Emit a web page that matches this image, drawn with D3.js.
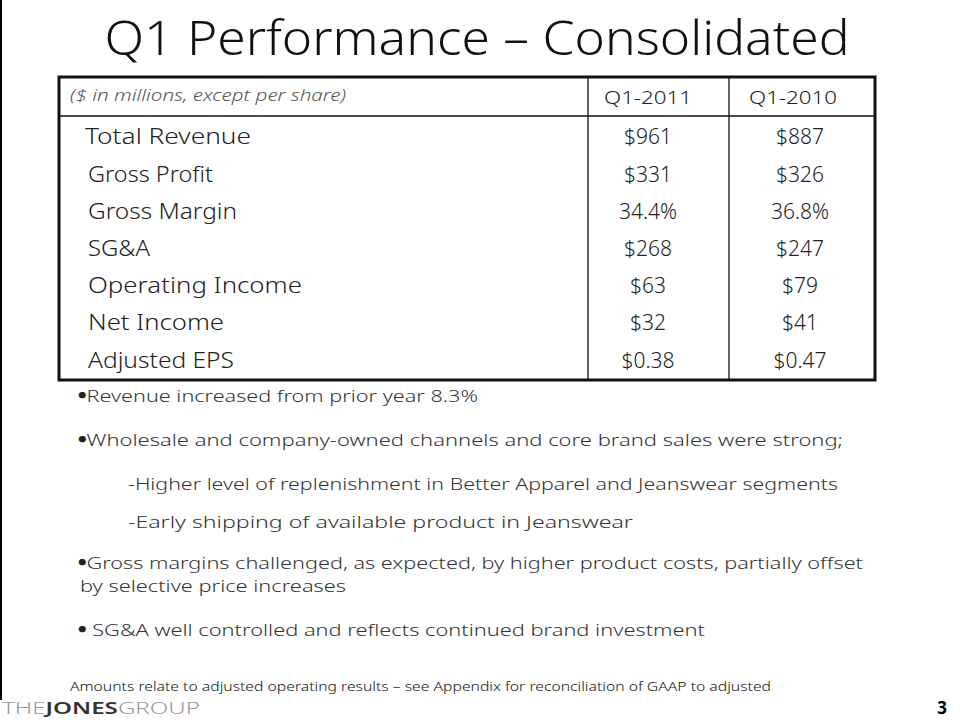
<!DOCTYPE html>
<html><head><meta charset="utf-8">
<script src="https://cdn.jsdelivr.net/npm/d3@7"></script>
<style>
html,body{margin:0;padding:0;background:#fff;}
svg{display:block;font-family:"Noto Sans","Lato","DejaVu Sans",sans-serif;}
</style></head>
<body>
<svg id="chart" width="960" height="720"></svg>
<script>
const title = "Q1 Performance \u2013 Consolidated";
const headerNote = "($ in millions, except per share)";
const columns = ["Q1-2011", "Q1-2010"];
const categories = ["Total Revenue","Gross Profit","Gross Margin","SG&A","Operating Income","Net Income","Adjusted EPS"];
const q2011 = ["$961","$331","34.4%","$268","$63","$32","$0.38"];
const q2010 = ["$887","$326","36.8%","$247","$79","$41","$0.47"];
const bullets = [
  "\u2022Revenue increased from prior year 8.3%",
  "\u2022Wholesale and company-owned channels and core brand sales were strong;",
  "-Higher level of replenishment in Better Apparel and Jeanswear segments",
  "-Early shipping of available product in Jeanswear",
  "\u2022Gross margins challenged, as expected, by higher product costs, partially offset",
  "by selective price increases",
  "\u2022 SG&A well controlled and reflects continued brand investment"
];
const footnote = "Amounts relate to adjusted operating results \u2013 see Appendix for reconciliation of GAAP to adjusted";

const svg = d3.select("#chart");

function fit(sel, w){
  sel.each(function(){
    const n = this.getComputedTextLength();
    if (n > 0) d3.select(this).attr("textLength", w).attr("lengthAdjust","spacingAndGlyphs");
  });
  return sel;
}

// left edge line
svg.append("line").attr("x1",1).attr("x2",1).attr("y1",0).attr("y2",700)
  .attr("stroke","#000").attr("stroke-width",2);

// title
fit(svg.append("text").attr("x",477).attr("y",55).attr("text-anchor","middle")
  .attr("font-size",48).attr("font-weight",300).attr("fill","#111").text(title), 745);

// table geometry
const tLeft = 59, tRight = 875, tTop = 77, tBottom = 380, headBottom = 116;
const colEdges = [tLeft, 588, 729, tRight];

const y = d3.scaleBand().domain(categories).range([headBottom + 2, tBottom]).paddingOuter(0.02);
const xCol = d3.scaleOrdinal().domain(columns).range([648, 800]);

const tbl = svg.append("g");
tbl.append("rect").attr("x",tLeft).attr("y",tTop).attr("width",tRight-tLeft).attr("height",tBottom-tTop)
  .attr("fill","none").attr("stroke","#111").attr("stroke-width",3);
tbl.append("line").attr("x1",tLeft).attr("x2",tRight).attr("y1",headBottom).attr("y2",headBottom)
  .attr("stroke","#111").attr("stroke-width",1.3);
[colEdges[1], colEdges[2]].forEach(x=>{
  tbl.append("line").attr("x1",x).attr("x2",x).attr("y1",tTop).attr("y2",tBottom)
    .attr("stroke","#111").attr("stroke-width",1.3);
});

fit(tbl.append("text").attr("x",70).attr("y",101).attr("font-size",16).attr("font-style","italic")
  .attr("font-weight",300).attr("fill","#555").text(headerNote), 276);

tbl.selectAll("text.colh").data(columns).join("text").attr("class","colh")
  .attr("x",(d,i)=> i===0 ? 648 : 793).attr("y",104).attr("text-anchor","middle")
  .attr("font-size",19).attr("font-weight",300).attr("fill","#222").text(d=>d)
  .each(function(){ fit(d3.select(this), 88); });

tbl.selectAll("text.cat").data(categories).join("text").attr("class","cat")
  .attr("x",(d,i)=> i===0 ? 85 : 88).attr("y",d=> y(d)+y.bandwidth()/2+7)
  .attr("font-size",21).attr("font-weight",300).attr("fill","#222").text(d=>d);

const catW = {"Total Revenue":166,"Gross Profit":125,"Gross Margin":149,"SG&A":62,"Operating Income":214,"Net Income":136,"Adjusted EPS":146};
tbl.selectAll("text.cat").each(function(d){ fit(d3.select(this), catW[d]); });

const rows = categories.map((c,i)=>({c, v:[q2011[i], q2010[i]]}));
rows.forEach(r=>{
  columns.forEach((col,j)=>{
    tbl.append("text").attr("x",xCol(col)).attr("y",y(r.c)+y.bandwidth()/2+7)
      .attr("text-anchor","middle").attr("font-size",21).attr("font-weight",300)
      .attr("fill","#222").text(r.v[j]);
  });
});

// bullets
const bx = [78,78,128,128,78,80,78];
const by = [402,446,490,528,569,592,636];
const bw = [400,765,710,505,785,266,627];
svg.selectAll("text.bul").data(bullets).join("text").attr("class","bul")
  .attr("x",(d,i)=>bx[i]).attr("y",(d,i)=>by[i]).attr("font-size",17).attr("font-weight",300)
  .attr("fill","#333")
  .each(function(d,i){
    const t = d3.select(this);
    if (d.startsWith("\u2022")) {
      t.append("tspan").attr("font-weight",900).attr("fill","#222").text("\u2022");
      t.append("tspan").text(d.slice(1));
    } else {
      t.text(d);
    }
    fit(t, bw[i]);
  });

// footnote
fit(svg.append("text").attr("x",70).attr("y",691).attr("font-size",12.5).attr("font-weight",300)
  .attr("fill","#111").text(footnote), 701);

// logo
const logo = svg.append("text").attr("x",2).attr("y",714).attr("font-size",16).attr("font-weight",300);
logo.append("tspan").attr("fill","#999").text("THE");
logo.append("tspan").attr("fill","#333").attr("font-weight",600).text("JONES");
logo.append("tspan").attr("fill","#999").text("GROUP");
fit(logo, 198);

svg.append("text").attr("x",942).attr("y",714).attr("text-anchor","middle").attr("font-size",17)
  .attr("font-weight",700).attr("fill","#000").text("3");
</script>
</body></html>
